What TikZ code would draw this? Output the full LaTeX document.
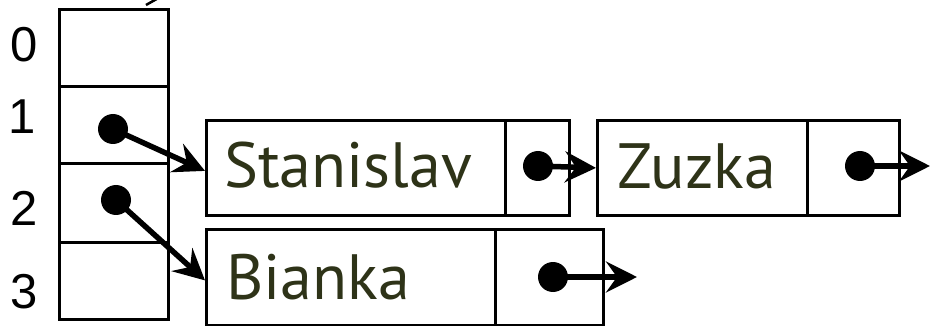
\documentclass[tikz,border=0pt]{standalone}
\usepackage{fontspec}
\setmainfont{Liberation Sans}
\newfontfamily\namefont{PT Sans}
\usetikzlibrary{arrows.meta}
\definecolor{nametext}{HTML}{2E3318}
\tikzset{
  cell/.style={draw=black, line width=2.8pt, inner sep=0pt, anchor=north west},
  idx/.style={font=\fontsize{49}{49}\selectfont, text=black, inner sep=0pt},
  keytext/.style={font=\namefont\fontsize{64}{64}\selectfont, text=nametext, inner sep=0pt, anchor=base west},
  dot/.style={circle, fill=black, minimum size=30pt, inner sep=0pt},
  ptr/.style={line width=5.5pt, -{Stealth[length=31pt, width=31pt, inset=11pt]}},
}
\begin{document}
\begin{tikzpicture}[x=1pt, y=-1pt]
\useasboundingbox (0,0) rectangle (930,326);
\clip (0,0) rectangle (930,326);

% hash table column
\node[cell, minimum width=109pt, minimum height=77pt] (r0) at (58,8) {};
\node[cell, minimum width=109pt, minimum height=77pt] (r1) at (58,85) {};
\node[cell, minimum width=109pt, minimum height=79pt] (r2) at (58,162) {};
\node[cell, minimum width=109pt, minimum height=77pt] (r3) at (58,241) {};

\node[idx] (i0) at (24,45) {0};
\node[idx] (i1) at (22,117) {1};
\node[idx] (i2) at (24,208) {2};
\node[idx] (i3) at (24,292) {3};

% stray stroke above the column
\coordinate (s0) at (146,5);
\coordinate (s1) at (162,-4);
\draw[line width=2.5pt] (s0) -- (s1);

% list entries
\node[cell, minimum width=299pt, minimum height=95pt] (sk) at (205,119) {};
\node[cell, minimum width=64pt, minimum height=95pt] (sp) at (504,119) {};
\node[cell, minimum width=210pt, minimum height=95pt] (zk) at (596,119) {};
\node[cell, minimum width=92pt, minimum height=95pt] (zp) at (806,119) {};
\node[cell, minimum width=289pt, minimum height=96pt] (bk) at (205,228) {};
\node[cell, minimum width=108pt, minimum height=96pt] (bp) at (494,228) {};

\node[keytext] (sn) at (224,188) {Stanislav};
\node[keytext] (zn) at (617,189) {Zuzka};
\node[keytext] (bn) at (226,299) {Bianka};

% pointer dots
\node[dot] (d1) at (113,129) {};
\node[dot] (d2) at (116,200) {};
\node[dot] (ds) at (538,166) {};
\node[dot] (dz) at (860,166) {};
\node[dot] (db) at (553,277) {};

\coordinate (zend) at (930,166);
\coordinate (bend) at (637,277);

\draw[ptr] (d1.center) -- ([yshift=-3pt]sk.west);
\draw[ptr] (d2.center) -- ([yshift=-3pt]bk.west);
\draw[ptr] (ds.center) -- (zk.west);
\draw[ptr] (dz.center) -- (zend);
\draw[ptr] (db.center) -- (bend);
\end{tikzpicture}
\end{document}
